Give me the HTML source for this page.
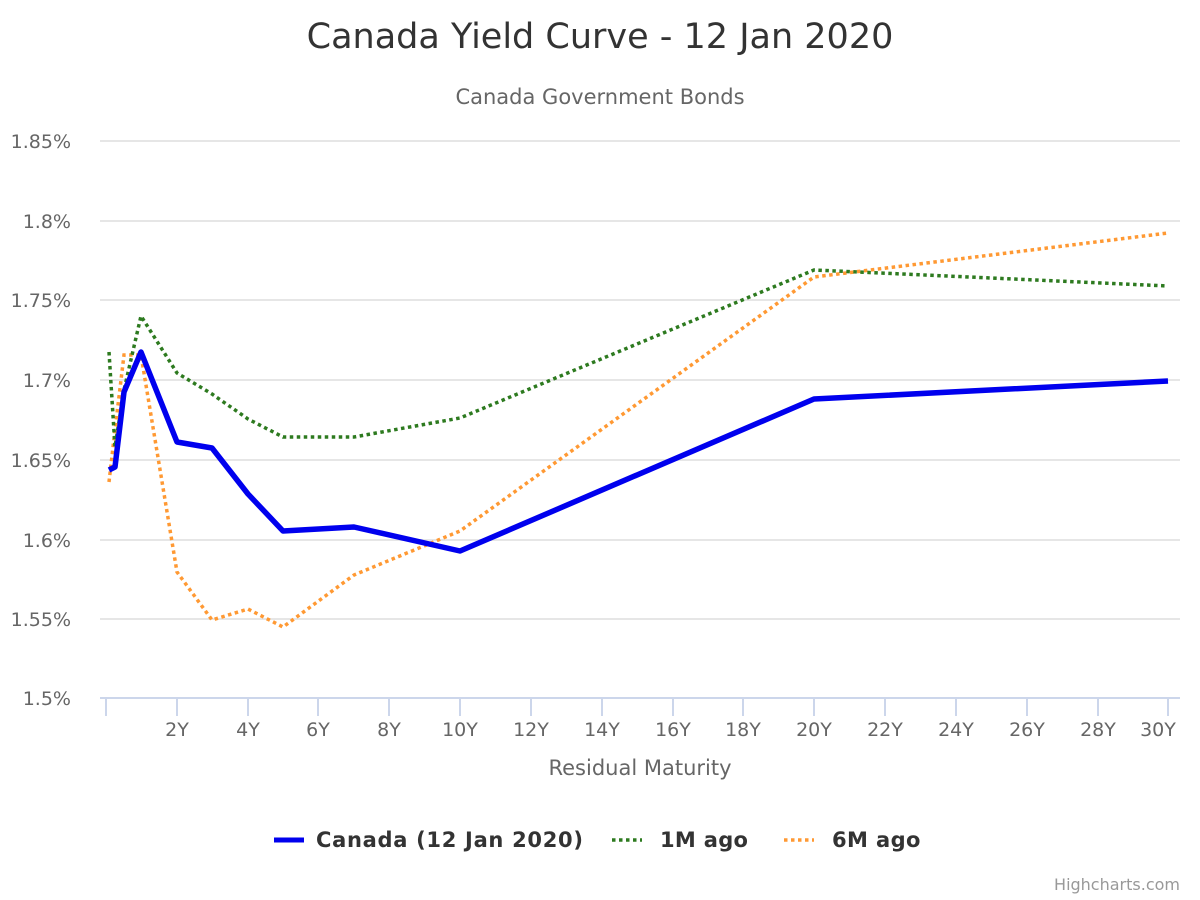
<!DOCTYPE html>
<html><head><meta charset="utf-8"><style>
body{margin:0;background:#fff}
svg{display:block;font-family:"DejaVu Sans","Liberation Sans",sans-serif}
</style></head><body>
<svg width="1200" height="900" viewBox="0 0 1200 900">
<rect width="1200" height="900" fill="#fff"/>
<text x="600" y="48" text-anchor="middle" font-size="35" fill="#333">Canada Yield Curve - 12 Jan 2020</text>
<text x="600" y="104" text-anchor="middle" font-size="21" fill="#666">Canada Government Bonds</text>
<g stroke="#e6e6e6" stroke-width="2">
<line x1="100" x2="1180" y1="141" y2="141"/><line x1="100" x2="1180" y1="221" y2="221"/>
<line x1="100" x2="1180" y1="300" y2="300"/><line x1="100" x2="1180" y1="380" y2="380"/>
<line x1="100" x2="1180" y1="460" y2="460"/><line x1="100" x2="1180" y1="540" y2="540"/>
<line x1="100" x2="1180" y1="619" y2="619"/>
</g>
<line x1="100" x2="1180" y1="698" y2="698" stroke="#ccd6eb" stroke-width="2"/>
<g stroke="#ccd6eb" stroke-width="2">
<line x1="106" x2="106" y1="699" y2="716"/><line x1="177" x2="177" y1="699" y2="716"/><line x1="248" x2="248" y1="699" y2="716"/><line x1="318" x2="318" y1="699" y2="716"/><line x1="389" x2="389" y1="699" y2="716"/><line x1="460" x2="460" y1="699" y2="716"/><line x1="531" x2="531" y1="699" y2="716"/><line x1="602" x2="602" y1="699" y2="716"/><line x1="673" x2="673" y1="699" y2="716"/><line x1="743" x2="743" y1="699" y2="716"/><line x1="814" x2="814" y1="699" y2="716"/><line x1="885" x2="885" y1="699" y2="716"/><line x1="956" x2="956" y1="699" y2="716"/><line x1="1027" x2="1027" y1="699" y2="716"/><line x1="1098" x2="1098" y1="699" y2="716"/><line x1="1168" x2="1168" y1="699" y2="716"/>
</g>
<g font-size="19" fill="#666" text-anchor="end">
<text x="71" y="148">1.85%</text><text x="71" y="228">1.8%</text><text x="71" y="307">1.75%</text><text x="71" y="387">1.7%</text><text x="71" y="467">1.65%</text><text x="71" y="547">1.6%</text><text x="71" y="626">1.55%</text><text x="71" y="705">1.5%</text>
</g>
<g font-size="19" fill="#666" text-anchor="middle">
<text x="177" y="736">2Y</text><text x="248" y="736">4Y</text><text x="318" y="736">6Y</text><text x="389" y="736">8Y</text><text x="460" y="736">10Y</text><text x="531" y="736">12Y</text><text x="602" y="736">14Y</text><text x="673" y="736">16Y</text><text x="743" y="736">18Y</text><text x="814" y="736">20Y</text><text x="885" y="736">22Y</text><text x="956" y="736">24Y</text><text x="1027" y="736">26Y</text><text x="1098" y="736">28Y</text><text x="1158" y="736">30Y</text>
</g>
<text x="640" y="775" text-anchor="middle" font-size="21" fill="#666">Residual Maturity</text>
<polyline fill="none" stroke="#ff9933" stroke-width="3.5" stroke-dasharray="3.5,3.5" points="109,482 115,430 124,355 141,355 177,572 212,620 248,609 283,627 354,575 460,531 814,277 1168,233"/>
<polyline fill="none" stroke="#2d7a1f" stroke-width="3.5" stroke-dasharray="3.5,3.5" points="109,352 115,447 124,390 141,316 177,373 212,394 248,419 283,437 354,437 460,418 814,270 1168,286"/>
<polyline fill="none" stroke="#0000ee" stroke-width="5.5" stroke-linejoin="round" points="109,470 115,467 124,392 141,352 177,442 212,448 248,494 283,531 354,527 460,551 814,399 1168,381"/>
<line x1="274" x2="304" y1="840" y2="840" stroke="#0000ee" stroke-width="5"/>
<text x="316" y="847" font-size="21" font-weight="bold" fill="#333" letter-spacing="0.7">Canada (12 Jan 2020)</text>
<line x1="612" x2="642" y1="840" y2="840" stroke="#2d7a1f" stroke-width="3.5" stroke-dasharray="3.5,3.5"/>
<text x="660" y="847" font-size="21" font-weight="bold" fill="#333" letter-spacing="0.3">1M ago</text>
<line x1="784" x2="814" y1="840" y2="840" stroke="#ff9933" stroke-width="3.5" stroke-dasharray="3.5,3.5"/>
<text x="832" y="847" font-size="21" font-weight="bold" fill="#333" letter-spacing="0.4">6M ago</text>
<text x="1180" y="890" text-anchor="end" font-size="16" fill="#999">Highcharts.com</text>
</svg>
</body></html>
